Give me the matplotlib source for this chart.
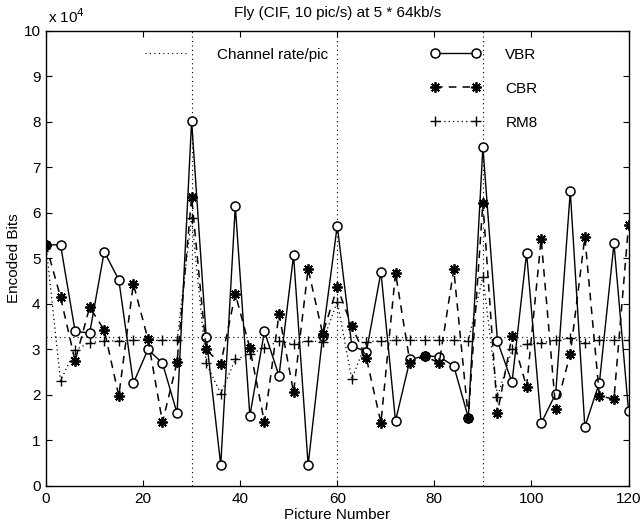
import numpy as np
import matplotlib
matplotlib.use('Agg')
import matplotlib.pyplot as plt
from matplotlib.lines import Line2D

plt.rcParams['font.family'] = ['Liberation Sans', 'DejaVu Sans']
plt.rcParams['font.size'] = 11

# picture numbers (every 3rd picture)
pics = list(range(0, 121, 3))

# encoded bits, in units of 10^4
vbr = [5.3, 5.3, 3.4, 3.36, 5.15, 4.53, 2.26, 3.0, 2.7, 1.6,
       8.02, 3.28, 0.46, 6.15, 1.54, 3.4, 2.42, 5.07, 0.46, 3.3,
       5.72, 3.08, 2.95, 4.7, 1.43, 2.78, 2.86, 2.84, 2.64, 1.5,
       7.45, 3.18, 2.28, 5.12, 1.38, 2.03, 6.48, 1.3, 2.27, 5.33,
       1.65]
cbr = [5.3, 4.15, 2.75, 3.93, 3.43, 1.98, 4.44, 3.23, 1.4, 2.72,
       6.35, 3.0, 2.68, 4.22, 3.03, 1.4, 3.78, 2.06, 4.77, 3.34,
       4.37, 3.51, 2.81, 1.39, 4.68, 2.7, 2.86, 2.7, 4.76, 1.5,
       6.23, 1.6, 3.3, 2.18, 5.43, 1.69, 2.9, 5.47, 1.98, 1.91,
       5.73]
rm8 = [5.3, 2.31, 2.99, 3.15, 3.19, 3.19, 3.2, 3.2, 3.2, 3.2,
       5.9, 2.7, 2.03, 2.78, 2.9, 3.03, 3.19, 3.12, 3.19, 3.17,
       4.05, 2.35, 3.17, 3.19, 3.2, 3.2, 3.2, 3.2, 3.2, 3.19,
       4.6, 1.96, 3.0, 3.12, 3.15, 3.2, 3.25, 3.15, 3.2, 3.2,
       3.2]

channel_rate = 3.2768   # 5*64 kb/s at 10 pic/s
gop_lines = [30, 60, 90]

fig = plt.figure(figsize=(6.43, 5.25), dpi=100)
ax = fig.add_axes([0.0715, 0.0743, 0.906, 0.8667])

# channel rate and dotted verticals
ax.axhline(channel_rate, color='k', ls=(0, (1, 3)), lw=0.8)
for g in gop_lines:
    ax.axvline(g, color='k', ls=(0, (1, 3)), lw=0.8)

asterisk = (8, 2, 0)
l1, = ax.plot(pics, vbr, '-', color='k', lw=1.0, marker='o', mfc='white', mec='k', ms=6.5, mew=1.1)
l2, = ax.plot(pics, cbr, color='k', lw=1.1, ls=(0, (5, 4)), marker=asterisk, ms=7.5, mew=1.3)
l3, = ax.plot(pics, rm8, color='k', lw=0.9, ls=(0, (1, 2.5)), marker='+', ms=7.5, mew=1.0)

ax.set_xlim(0, 120)
ax.set_ylim(0, 10)
ax.set_xticks(range(0, 121, 20))
ax.set_yticks(range(0, 11))
ax.tick_params(direction='in', top=True, right=True, length=4, width=0.8, labelsize=11, pad=4)
for s in ax.spines.values():
    s.set_linewidth(1.0)

ax.set_xlabel('Picture Number', labelpad=2)
ax.set_ylabel('Encoded Bits', labelpad=2)
ax.set_title('Fly (CIF, 10 pic/s) at 5 * 64kb/s', fontsize=11, pad=10)
ax.text(0.003, 1.012, 'x 10$^4$', transform=ax.transAxes, ha='left', va='bottom', fontsize=11)

leg1 = ax.legend([Line2D([], [], color='k', ls=(0, (1, 3)), lw=0.8)], ['Channel rate/pic'],
                 loc='upper left', bbox_to_anchor=(0.17, 0.963), frameon=False,
                 borderpad=0, borderaxespad=0, handlelength=2.9, handletextpad=1.8, fontsize=11)
ax.add_artist(leg1)
ax.legend([l1, l2, l3], ['VBR', 'CBR', 'RM8'], loc='upper left', bbox_to_anchor=(0.66, 0.963),
          frameon=False, borderpad=0, borderaxespad=0, numpoints=2, handlelength=3.3,
          handletextpad=1.6, labelspacing=1.3, fontsize=11)

fig.savefig('out.png', dpi=100)
